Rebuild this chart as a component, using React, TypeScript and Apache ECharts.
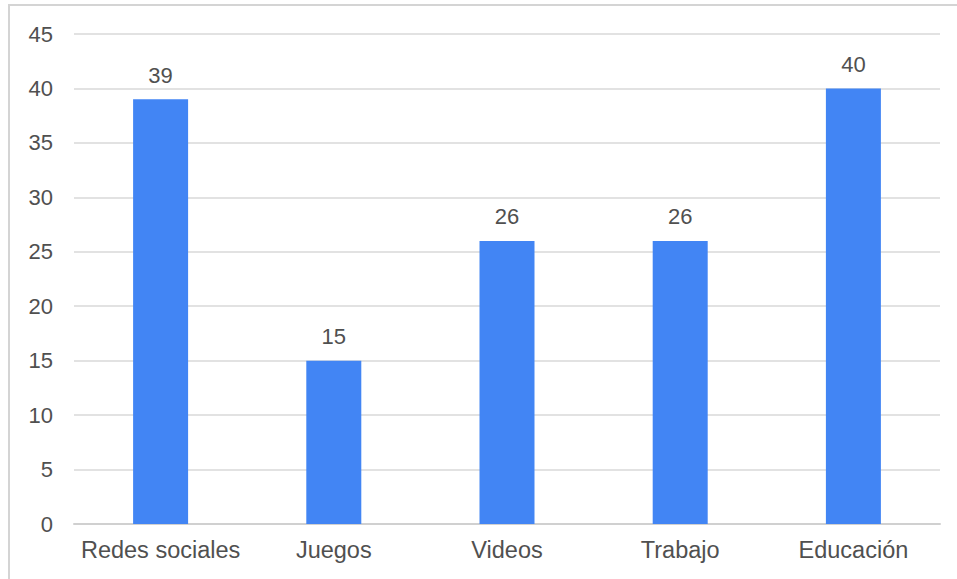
import React, { useEffect, useRef } from "react";
import * as echarts from "echarts";

const categories = ["Redes sociales", "Juegos", "Videos", "Trabajo", "Educación"];
const values = [39, 15, 26, 26, 40];

export default function App() {
  const ref = useRef<HTMLDivElement>(null);
  useEffect(() => {
    if (!ref.current) return;
    const chart = echarts.init(ref.current, null, { renderer: "svg" });
    chart.setOption({
      animation: false,
      backgroundColor: "#ffffff",
      textStyle: { fontFamily: "Liberation Sans, Arial, sans-serif" },
      graphic: [
        {
          type: "rect",
          shape: { x: 9, y: 5, width: 1000, height: 1000 },
          style: { fill: "none", stroke: "#d4d4d4", lineWidth: 2 },
          silent: true,
        },
      ],
      grid: { left: 74, right: 17, top: 34, bottom: 55, containLabel: false },
      xAxis: {
        type: "category",
        data: categories,
        axisLine: { show: true, lineStyle: { color: "#d0d0d0", width: 2 } },
        axisTick: { show: false },
        axisLabel: { color: "#505050", fontSize: 23.5, margin: 14, interval: 0 },
      },
      yAxis: {
        type: "value",
        min: 0,
        max: 45,
        interval: 5,
        axisLine: { show: false },
        axisTick: { show: false },
        axisLabel: { color: "#505050", fontSize: 22, margin: 21 },
        splitLine: { lineStyle: { color: "#e2e2e2", width: 2 } },
      },
      series: [
        {
          type: "bar",
          data: values,
          barWidth: 55,
          itemStyle: { color: "#4285F4" },
          label: {
            show: true,
            position: "top",
            distance: 13,
            color: "#505050",
            fontSize: 22,
          },
        },
      ],
    });
    return () => chart.dispose();
  }, []);
  return (
    <div
      ref={ref}
      style={{ position: "fixed", left: 0, top: 0, width: 957, height: 579 }}
    />
  );
}
